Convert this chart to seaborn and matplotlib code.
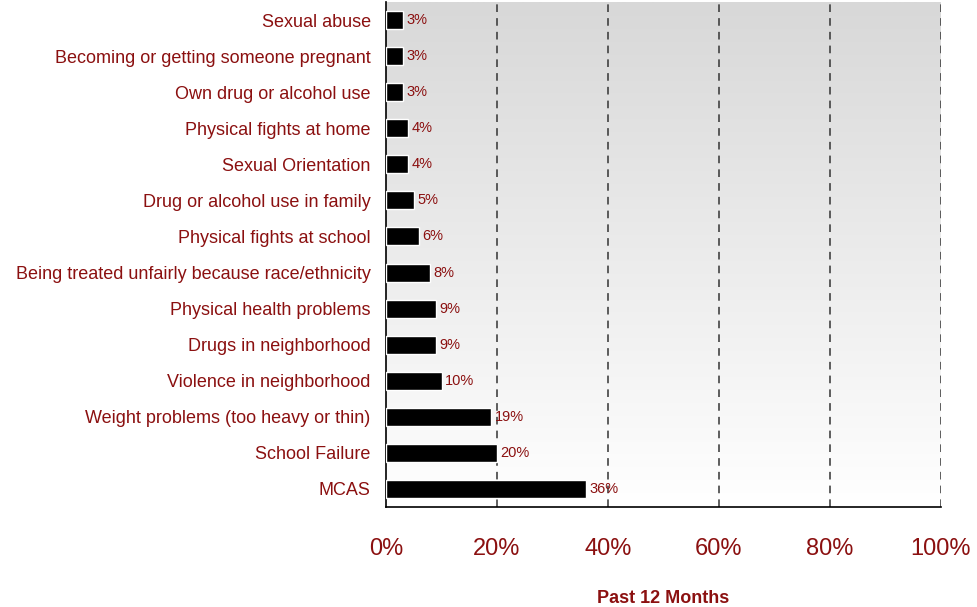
import numpy as np
import pandas as pd
import seaborn as sb
import matplotlib
matplotlib.use("Agg")
import matplotlib.pyplot as plt

# Stressors, past 12 months
categories = [
    "Sexual abuse",
    "Becoming or getting someone pregnant",
    "Own drug or alcohol use",
    "Physical fights at home",
    "Sexual Orientation",
    "Drug or alcohol use in family",
    "Physical fights at school",
    "Being treated unfairly because race/ethnicity",
    "Physical health problems",
    "Drugs in neighborhood",
    "Violence in neighborhood",
    "Weight problems (too heavy or thin)",
    "School Failure",
    "MCAS",
]
values = [3, 3, 3, 4, 4, 5, 6, 8, 9, 9, 10, 19, 20, 36]
xticks = [0, 20, 40, 60, 80, 100]

data = pd.DataFrame({"category": categories, "pct": values})

red = "#8b1010"

sb.set_theme(style="white")
plt.rcParams["font.family"] = ["Liberation Sans", "DejaVu Sans"]

fig = plt.figure(figsize=(9.77, 6.07), dpi=100)
ax = fig.add_axes([386 / 977, 100 / 607, 555 / 977, 505 / 607])

sb.barplot(data=data, x="pct", y="category", orient="h", color="black",
           width=0.5, saturation=1, ax=ax, zorder=3)

ax.set_xlim(0, 100)
ax.set_ylim(len(categories) - 0.5, -0.5)

# gradient background
grad = np.linspace(0, 1, 256).reshape(-1, 1)
ax.imshow(grad, cmap=matplotlib.colors.LinearSegmentedColormap.from_list(
    "bg", ["#d8d8d8", "#ffffff"]), aspect="auto",
    extent=[0, 100, len(categories) - 0.5, -0.5], zorder=0)

for x in xticks[1:]:
    ax.axvline(x, color="#333333", linestyle=(0, (5, 4)), linewidth=1.1, zorder=1)

for i, v in enumerate(values):
    ax.text(v + 0.6, i, f"{v}%", va="center", ha="left", color=red, fontsize=10.5, zorder=4)

ax.set_xticks(xticks)
ax.set_xticklabels([f"{t}%" for t in xticks], color=red, fontsize=17)
ax.tick_params(axis="x", pad=22, length=0)
ax.tick_params(axis="y", length=0, pad=11)
for lab in ax.get_yticklabels():
    lab.set_color(red)
    lab.set_fontsize(13)

ax.set_ylabel("")
ax.set_xlabel("Past 12 Months", color=red, fontsize=13, fontweight="bold", labelpad=22)

for s in ["top", "right"]:
    ax.spines[s].set_visible(False)
for s in ["left", "bottom"]:
    ax.spines[s].set_color("black")
    ax.spines[s].set_linewidth(1.2)
ax.grid(False)

fig.savefig("out.png", dpi=100)
